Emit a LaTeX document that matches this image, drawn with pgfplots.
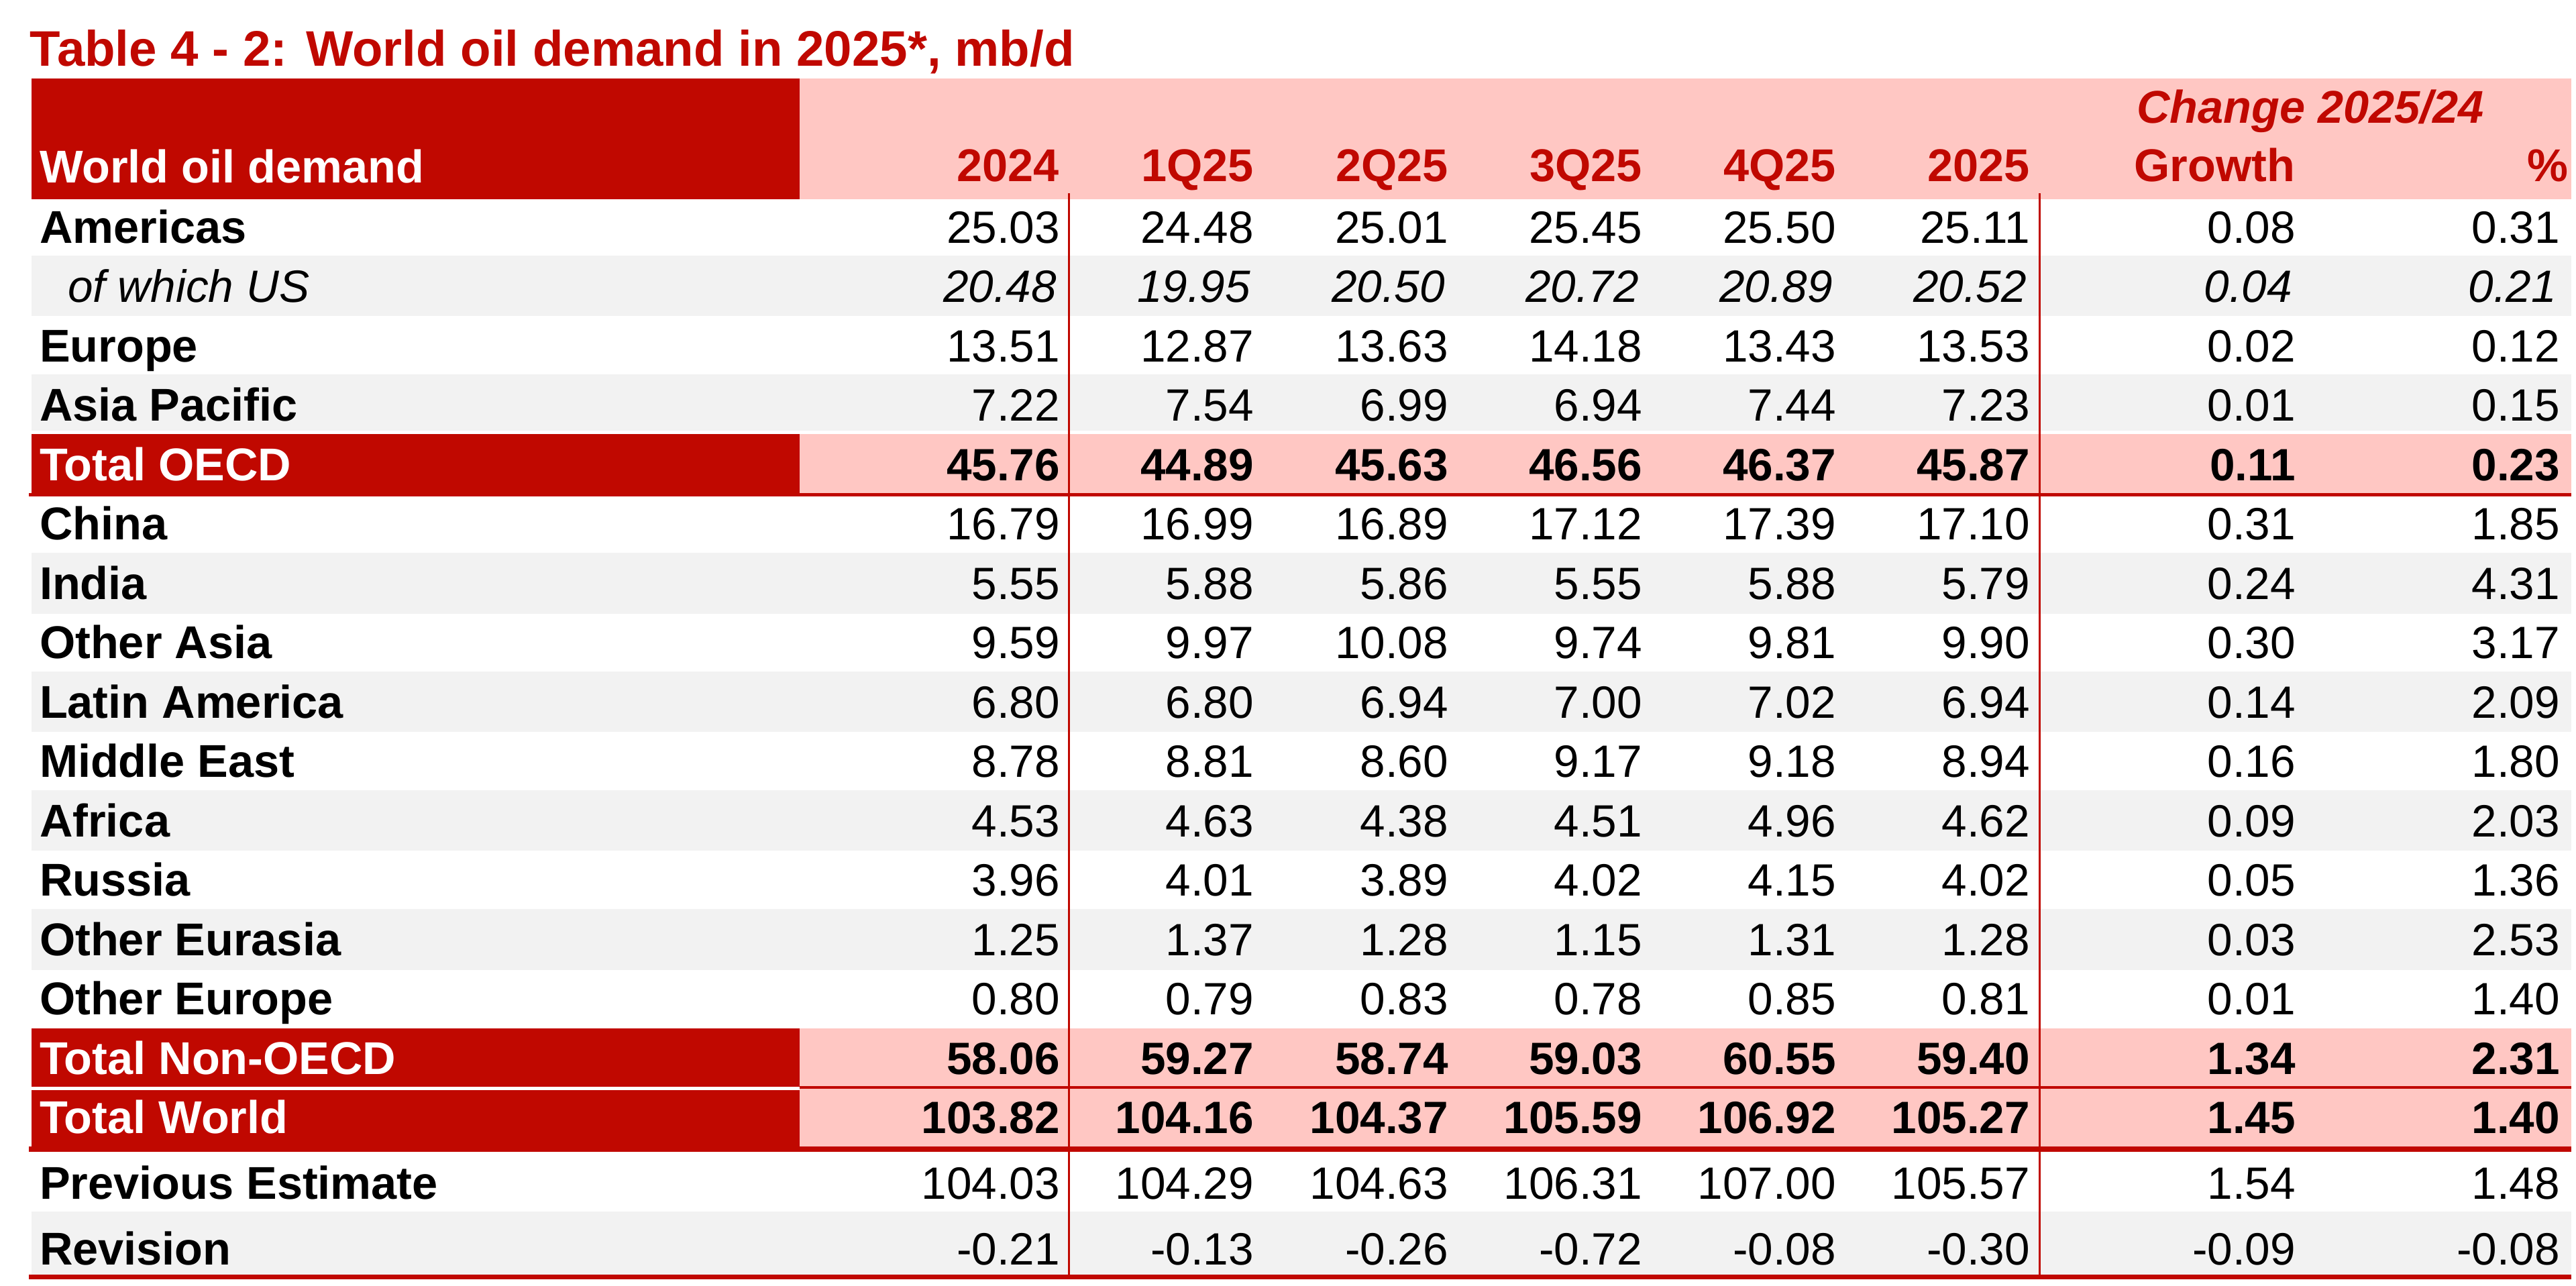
\documentclass[border=0pt]{standalone}
\usepackage{pgfplots}
\usepackage{pgfplotstable}
\pgfplotsset{compat=1.18}
\usepackage{fontspec}
\setmainfont{Liberation Sans}
\definecolor{odred}{RGB}{192,8,0}
\definecolor{opink}{RGB}{255,199,195}
\definecolor{ogray}{RGB}{242,242,242}
\newcommand\valfont{\fontsize{13.5pt}{16pt}\selectfont}
\newcommand\labfont{\fontsize{13.7pt}{16pt}\selectfont\bfseries}
\newcommand\ttlfont{\fontsize{14.9pt}{17pt}\selectfont\bfseries}

\pgfplotstableread{
y label a b c d e f g h
362 Americas 25.03 24.48 25.01 25.45 25.50 25.11 0.08 0.31
539 Europe 13.51 12.87 13.63 14.18 13.43 13.53 0.02 0.12
627.5 {Asia Pacific} 7.22 7.54 6.99 6.94 7.44 7.23 0.01 0.15
804.5 China 16.79 16.99 16.89 17.12 17.39 17.10 0.31 1.85
893 India 5.55 5.88 5.86 5.55 5.88 5.79 0.24 4.31
981.5 {Other Asia} 9.59 9.97 10.08 9.74 9.81 9.90 0.30 3.17
1070 {Latin America} 6.80 6.80 6.94 7.00 7.02 6.94 0.14 2.09
1158.5 {Middle East} 8.78 8.81 8.60 9.17 9.18 8.94 0.16 1.80
1247 Africa 4.53 4.63 4.38 4.51 4.96 4.62 0.09 2.03
1335.5 Russia 3.96 4.01 3.89 4.02 4.15 4.02 0.05 1.36
1424 {Other Eurasia} 1.25 1.37 1.28 1.15 1.31 1.28 0.03 2.53
1512.5 {Other Europe} 0.80 0.79 0.83 0.78 0.85 0.81 0.01 1.40
1787 {Previous Estimate} 104.03 104.29 104.63 106.31 107.00 105.57 1.54 1.48
1885 Revision -0.21 -0.13 -0.26 -0.72 -0.08 -0.30 -0.09 -0.08
}\normrows

\pgfplotstableread{
y label a b c d e f g h
450.5 {of which US} 20.48 19.95 20.50 20.72 20.89 20.52 0.04 0.21
}\usrow

\pgfplotstableread{
y label a b c d e f g h
716 {Total OECD} 45.76 44.89 45.63 46.56 46.37 45.87 0.11 0.23
1601 {Total Non-OECD} 58.06 59.27 58.74 59.03 60.55 59.40 1.34 2.31
1689.5 {Total World} 103.82 104.16 104.37 105.59 106.92 105.27 1.45 1.40
}\totrows

\pgfplotsset{
  valcol/.style={draw=none, mark=none, nodes near coords, point meta=explicit symbolic,
    every node near coord/.append style={inner sep=0pt, anchor=base east, text=black, font=\valfont}},
}

\begin{document}
\begin{tikzpicture}
\begin{axis}[
  width=768pt, height=383.2pt, scale only axis,
  xmin=0, xmax=3840, ymin=0, ymax=1916, y dir=reverse,
  hide axis, clip=false,
]
\path (axis cs:0,0) rectangle (axis cs:3840,1916);
% header
\fill[odred] (axis cs:47,117) rectangle (axis cs:1192,297);
\fill[opink] (axis cs:1192,117) rectangle (axis cs:3833,297);
% gray rows
\fill[ogray] (axis cs:47,381) rectangle (axis cs:3833,471);
\fill[ogray] (axis cs:47,558) rectangle (axis cs:3833,642);
\fill[ogray] (axis cs:47,824) rectangle (axis cs:3833,915);
\fill[ogray] (axis cs:47,1001) rectangle (axis cs:3833,1091);
\fill[ogray] (axis cs:47,1178) rectangle (axis cs:3833,1268);
\fill[ogray] (axis cs:47,1355) rectangle (axis cs:3833,1446);
\fill[ogray] (axis cs:47,1806) rectangle (axis cs:3833,1900);
% total rows
\fill[opink] (axis cs:1192,647) rectangle (axis cs:3833,736);
\fill[opink] (axis cs:1192,1533) rectangle (axis cs:3833,1710);
% vertical lines
\draw[odred, line width=0.6pt] (axis cs:1593,288) -- (axis cs:1593,1903);
\draw[odred, line width=0.6pt] (axis cs:3040,288) -- (axis cs:3040,1903);
% horizontal lines
\draw[odred, line width=1pt] (axis cs:43,737.5) -- (axis cs:3833,737.5);
\draw[odred, line width=0.8pt] (axis cs:1192,1621) -- (axis cs:3833,1621);
\draw[odred, line width=1.6pt] (axis cs:43,1713) -- (axis cs:3833,1713);
\draw[odred, line width=1.4pt] (axis cs:43,1903) -- (axis cs:3833,1903);
\fill[odred] (axis cs:47,647) rectangle (axis cs:1192,740);
\fill[odred] (axis cs:47,1533) rectangle (axis cs:1192,1620);
\fill[odred] (axis cs:47,1625) rectangle (axis cs:1192,1711);
% title and header text
\node[anchor=base west, inner sep=0pt, font=\ttlfont, text=odred] at (axis cs:44,98) {Table 4 - 2: World oil demand in 2025*, mb/d};
\node[anchor=base west, inner sep=0pt, font=\labfont, text=white] at (axis cs:58,272) {World oil demand};
\node[anchor=base west, inner sep=0pt, font=\labfont\itshape, text=odred] at (axis cs:3184,183) {Change 2025/24};
\node[anchor=base east, inner sep=0pt, font=\labfont, text=odred] at (axis cs:1580,270) {2024};
\node[anchor=base east, inner sep=0pt, font=\labfont, text=odred] at (axis cs:1870,270) {1Q25};
\node[anchor=base east, inner sep=0pt, font=\labfont, text=odred] at (axis cs:2160,270) {2Q25};
\node[anchor=base east, inner sep=0pt, font=\labfont, text=odred] at (axis cs:2449,270) {3Q25};
\node[anchor=base east, inner sep=0pt, font=\labfont, text=odred] at (axis cs:2738,270) {4Q25};
\node[anchor=base east, inner sep=0pt, font=\labfont, text=odred] at (axis cs:3027,270) {2025};
\node[anchor=base east, inner sep=0pt, font=\labfont, text=odred] at (axis cs:3422,270) {Growth};
\node[anchor=base east, inner sep=0pt, font=\labfont, text=odred] at (axis cs:3829,270) {\%};

% row labels
\addplot[valcol, every node near coord/.append style={anchor=base west, font=\labfont}] table[x expr=58, y=y, meta=label] {\normrows};
\addplot[valcol, every node near coord/.append style={anchor=base west, font=\valfont\itshape}] table[x expr=100, y=y, meta=label] {\usrow};
\addplot[valcol, every node near coord/.append style={anchor=base west, font=\labfont, text=white}] table[x expr=58, y=y, meta=label] {\totrows};

% normal rows
\addplot[valcol] table[x expr=1581, y=y, meta=a] {\normrows};
\addplot[valcol] table[x expr=1870, y=y, meta=b] {\normrows};
\addplot[valcol] table[x expr=2160, y=y, meta=c] {\normrows};
\addplot[valcol] table[x expr=2449, y=y, meta=d] {\normrows};
\addplot[valcol] table[x expr=2738, y=y, meta=e] {\normrows};
\addplot[valcol] table[x expr=3027, y=y, meta=f] {\normrows};
\addplot[valcol] table[x expr=3423, y=y, meta=g] {\normrows};
\addplot[valcol] table[x expr=3817, y=y, meta=h] {\normrows};
% US row
\addplot[valcol, every node near coord/.append style={font=\valfont\itshape}] table[x expr=1576, y=y, meta=a] {\usrow};
\addplot[valcol, every node near coord/.append style={font=\valfont\itshape}] table[x expr=1865, y=y, meta=b] {\usrow};
\addplot[valcol, every node near coord/.append style={font=\valfont\itshape}] table[x expr=2155, y=y, meta=c] {\usrow};
\addplot[valcol, every node near coord/.append style={font=\valfont\itshape}] table[x expr=2444, y=y, meta=d] {\usrow};
\addplot[valcol, every node near coord/.append style={font=\valfont\itshape}] table[x expr=2733, y=y, meta=e] {\usrow};
\addplot[valcol, every node near coord/.append style={font=\valfont\itshape}] table[x expr=3022, y=y, meta=f] {\usrow};
\addplot[valcol, every node near coord/.append style={font=\valfont\itshape}] table[x expr=3418, y=y, meta=g] {\usrow};
\addplot[valcol, every node near coord/.append style={font=\valfont\itshape}] table[x expr=3812, y=y, meta=h] {\usrow};
% total rows
\addplot[valcol, every node near coord/.append style={font=\valfont\bfseries}] table[x expr=1581, y=y, meta=a] {\totrows};
\addplot[valcol, every node near coord/.append style={font=\valfont\bfseries}] table[x expr=1870, y=y, meta=b] {\totrows};
\addplot[valcol, every node near coord/.append style={font=\valfont\bfseries}] table[x expr=2160, y=y, meta=c] {\totrows};
\addplot[valcol, every node near coord/.append style={font=\valfont\bfseries}] table[x expr=2449, y=y, meta=d] {\totrows};
\addplot[valcol, every node near coord/.append style={font=\valfont\bfseries}] table[x expr=2738, y=y, meta=e] {\totrows};
\addplot[valcol, every node near coord/.append style={font=\valfont\bfseries}] table[x expr=3027, y=y, meta=f] {\totrows};
\addplot[valcol, every node near coord/.append style={font=\valfont\bfseries}] table[x expr=3423, y=y, meta=g] {\totrows};
\addplot[valcol, every node near coord/.append style={font=\valfont\bfseries}] table[x expr=3817, y=y, meta=h] {\totrows};
\end{axis}
\end{tikzpicture}
\end{document}
